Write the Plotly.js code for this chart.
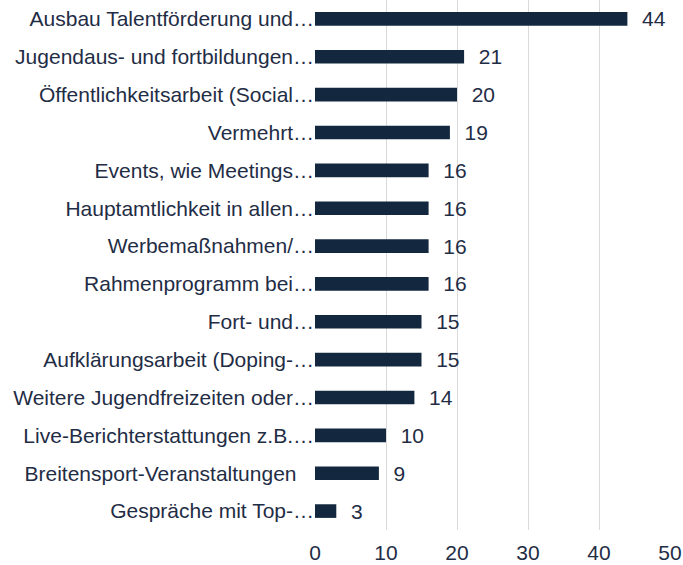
<!DOCTYPE html>
<html><head><meta charset="utf-8">
<script src="https://cdn.plot.ly/plotly-3.0.1.min.js"></script>
<style>html,body{margin:0;padding:0;background:#fff;}</style>
</head><body>
<div id="chart" style="width:683px;height:565px;"></div>
<script>
const categories = [
  "Ausbau Talentförderung und…",
  "Jugendaus- und fortbildungen…",
  "Öffentlichkeitsarbeit (Social…",
  "Vermehrt…",
  "Events, wie Meetings…",
  "Hauptamtlichkeit in allen…",
  "Werbemaßnahmen/…",
  "Rahmenprogramm bei…",
  "Fort- und…",
  "Aufklärungsarbeit (Doping-…",
  "Weitere Jugendfreizeiten oder…",
  "Live-Berichterstattungen z.B.…",
  "Breitensport-Veranstaltungen",
  "Gespräche mit Top-…"
];
const values = [44, 21, 20, 19, 16, 16, 16, 16, 15, 15, 14, 10, 9, 3];
const xTicks = [0, 10, 20, 30, 40, 50];

// labels without a trailing ellipsis sit a little further from the axis
const tickLabels = categories.map(c => c.endsWith('…') ? c : c + '\u00a0\u00a0\u00a0');

const trace = {
  type: 'bar',
  orientation: 'h',
  y: categories,
  x: values,
  marker: {color: '#13283f'},
  text: values.map(v => '\u00a0\u00a0' + v),
  textposition: 'outside',
  constraintext: 'none',
  cliponaxis: false,
  textfont: {family: 'Liberation Sans, Arial, sans-serif', size: 21, color: '#1f2d45'},
  hoverinfo: 'none'
};

const layout = {
  width: 683, height: 565,
  margin: {l: 315, r: 13, t: 0, b: 35},
  paper_bgcolor: '#fff', plot_bgcolor: '#fff',
  showlegend: false,
  bargap: 0.64,
  font: {family: 'Liberation Sans, Arial, sans-serif', size: 21, color: '#1f2d45'},
  xaxis: {
    range: [0, 50],
    tickvals: xTicks,
    showgrid: true, gridcolor: '#d9d9d9', gridwidth: 1,
    zeroline: false, showline: false,
    ticks: '', ticklabelstandoff: 8, fixedrange: true
  },
  yaxis: {
    autorange: 'reversed',
    type: 'category',
    tickvals: categories,
    ticktext: tickLabels,
    showgrid: false, zeroline: false, showline: false,
    ticks: '', ticklabelstandoff: 0, fixedrange: true
  }
};
Plotly.newPlot('chart', [trace], layout, {displayModeBar: false, staticPlot: true});
</script>
</body></html>
